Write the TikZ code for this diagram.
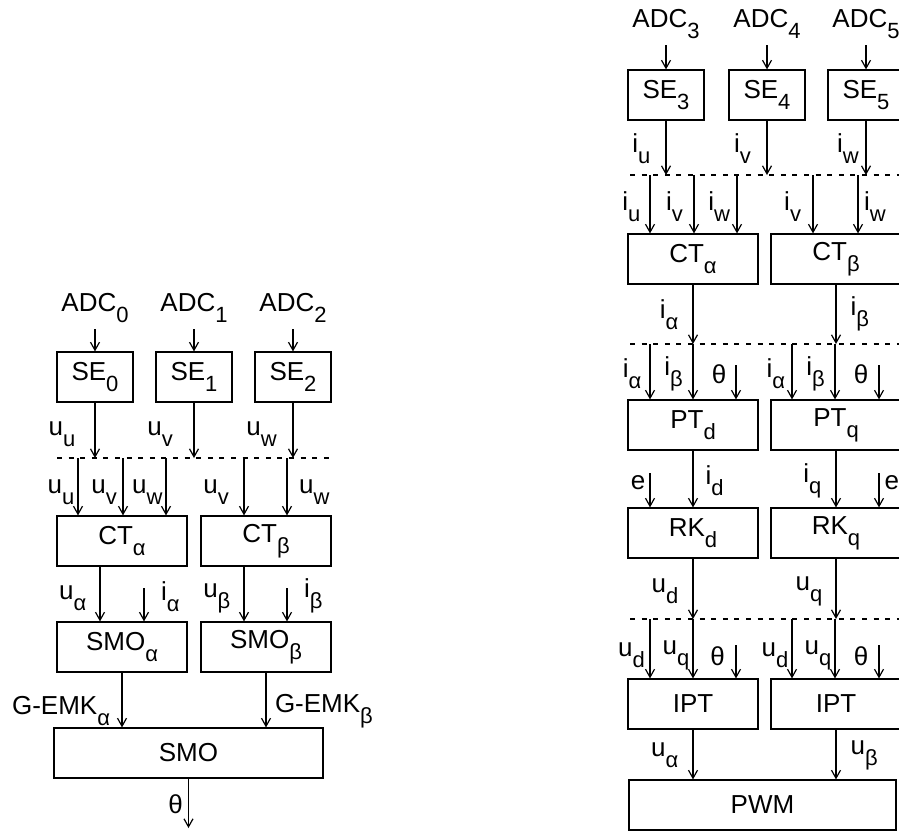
\documentclass[tikz,border=0pt]{standalone}
\usepackage{fontspec}
\setmainfont{Liberation Sans}
\usetikzlibrary{positioning, arrows.meta}

% lowered subscript as in the drawing
\newcommand{\lo}[1]{\raisebox{-5.5pt}{\fontsize{11}{13}\selectfont #1}}

\tikzset{
  blk/.style={draw, minimum width=65pt, minimum height=25pt, inner sep=0pt},
  seblk/.style={blk, minimum width=38pt},
  wideblk/.style={blk, minimum width=134pt},
  lbl/.style={inner sep=1.5pt},
  bus/.style={-, dash pattern=on 2.5pt off 3.3pt, line width=1pt},
}

\begin{document}
\begin{tikzpicture}[->,>={Straight Barb[length=4pt,width=4.5pt]}, semithick,
    x=1pt, y=-1pt, font=\fontsize{13}{15}\selectfont]
  \useasboundingbox (0,0) rectangle (449.5,415.5);
  \clip (0,0) rectangle (449.5,415.5);

  % ---- left: angle estimation ----
  \node[anchor=base] (adc0) at (47.5,155.5) {ADC\lo{0}};
  \node[anchor=base] (adc1) at (97,155.5) {ADC\lo{1}};
  \node[anchor=base] (adc2) at (146.5,155.5) {ADC\lo{2}};
  \node[seblk] (se0) at (47.5,188.5) {SE\lo{0}};
  \node[seblk] (se1) at (97,188.5) {SE\lo{1}};
  \node[seblk] (se2) at (146.5,188.5) {SE\lo{2}};
  \node[blk] (cta) at (61,270.5) {CT\lo{α}};
  \node[blk] (ctb) at (133,270.5) {CT\lo{β}};
  \node[blk] (smoa) at (61,323.5) {SMO\lo{α}};
  \node[blk] (smob) at (133,323.5) {SMO\lo{β}};
  \node[wideblk, minimum width=134.5pt] (smo) at (94.25,376.5) {SMO};

  \coordinate (busL) at (28.5,229);
  \coordinate (busLe) at (165.5,229);
  \draw[bus] (busL) -- (busLe);

  \path (adc0) edge (se0)
        (adc1) edge (se1)
        (adc2) edge (se2);
  \path (se0) edge node[lbl,left,pos=0.57,xshift=-8pt] {u\lo{u}} (se0 |- busL)
        (se1) edge node[lbl,left,pos=0.57,xshift=-8.8pt] {u\lo{v}} (se1 |- busL)
        (se2) edge node[lbl,left,pos=0.57,xshift=-6.3pt] {u\lo{w}} (se2 |- busL);

  \coordinate (l1) at (39,229);
  \coordinate (l2) at (61.5,229);
  \coordinate (l3) at (83,229);
  \coordinate (l4) at (122,229);
  \coordinate (l5) at (143.5,229);
  \path (l1) edge node[lbl,left,pos=0.6] {u\lo{u}} (l1 |- cta.north)
        (l2) edge node[lbl,left,pos=0.6,xshift=-1.3pt] {u\lo{v}} (l2 |- cta.north)
        (l3) edge node[lbl,left,pos=0.6] {u\lo{w}} (l3 |- cta.north)
        (l4) edge node[lbl,left,pos=0.6,xshift=-5.8pt] {u\lo{v}} (l4 |- ctb.north)
        (l5) edge node[lbl,right,pos=0.6,xshift=4.3pt] {u\lo{w}} (l5 |- ctb.north);

  \coordinate (ia) at (72,294);
  \coordinate (ib) at (143.5,294);
  \path ([xshift=-11pt]cta.south) edge node[lbl,left,pos=0.58,xshift=-5pt] {u\lo{α}} ([xshift=-11pt]smoa.north)
        (ia) edge node[lbl,right,pos=0.25,xshift=6.8pt] {i\lo{α}} (ia |- smoa.north)
        ([xshift=-11pt]ctb.south) edge node[lbl,left,pos=0.58,xshift=-5pt] {u\lo{β}} ([xshift=-11pt]smob.north)
        (ib) edge node[lbl,right,pos=0.25,xshift=6.8pt] {i\lo{β}} (ib |- smob.north);

  \coordinate (th) at (94.5,414);
  \path (smoa) edge node[lbl,left,pos=0.7,xshift=-4.2pt] {G-EMK\lo{α}} (smoa |- smo.north)
        (smob) edge node[lbl,right,pos=0.7,xshift=2.7pt] {G-EMK\lo{β}} (smob |- smo.north)
        (smo) edge node[lbl,left,pos=0.52,xshift=-1pt] {θ} (smo |- th);

  % ---- right: current control ----
  \node[anchor=base] (adc3) at (333,13.5) {ADC\lo{3}};
  \node[anchor=base] (adc4) at (383.5,13.5) {ADC\lo{4}};
  \node[anchor=base] (adc5) at (433,13.5) {ADC\lo{5}};
  \node[seblk] (se3) at (333,47.5) {SE\lo{3}};
  \node[seblk] (se4) at (383.5,47.5) {SE\lo{4}};
  \node[seblk] (se5) at (433,47.5) {SE\lo{5}};
  \node[blk] (cta2) at (346.5,129.5) {CT\lo{α}};
  \node[blk] (ctb2) at (418,129.5) {CT\lo{β}};
  \node[blk] (ptd) at (346.5,212.5) {PT\lo{d}};
  \node[blk] (ptq) at (418,212.5) {PT\lo{q}};
  \node[blk] (rkd) at (346.5,266.5) {RK\lo{d}};
  \node[blk] (rkq) at (418,266.5) {RK\lo{q}};
  \node[blk] (iptd) at (346.5,352) {IPT};
  \node[blk] (iptq) at (418,352) {IPT};
  \node[wideblk, minimum width=133.5pt] (pwm) at (381.25,402.5) {PWM};

  \coordinate (bus1) at (315,87.5);
  \coordinate (bus2) at (315,172);
  \coordinate (bus3) at (315,309.5);
  \draw[bus] (bus1) -- ++(140,0);
  \draw[bus] (bus2) -- ++(140,0);
  \draw[bus] (bus3) -- ++(140,0);

  \path (adc3) edge (se3)
        (adc4) edge (se4)
        (adc5) edge (se5);
  \path (se3) edge node[lbl,left,pos=0.52,xshift=-6pt] {i\lo{u}} (se3 |- bus1)
        (se4) edge node[lbl,left,pos=0.52,xshift=-6.3pt] {i\lo{v}} (se4 |- bus1)
        (se5) edge node[lbl,left,pos=0.52,xshift=-1.8pt] {i\lo{w}} (se5 |- bus1);

  \coordinate (r1) at (325,87.5);
  \coordinate (r2) at (347,87.5);
  \coordinate (r3) at (368.5,87.5);
  \coordinate (r4) at (406.5,87.5);
  \coordinate (r5) at (429,87.5);
  \path (r1) edge node[lbl,left,pos=0.54,xshift=-3pt] {i\lo{u}} (r1 |- cta2.north)
        (r2) edge node[lbl,left,pos=0.54,xshift=-3.8pt] {i\lo{v}} (r2 |- cta2.north)
        (r3) edge node[lbl,left,pos=0.54,xshift=-1.7pt] {i\lo{w}} (r3 |- cta2.north)
        (r4) edge node[lbl,left,pos=0.54,xshift=-4.2pt] {i\lo{v}} (r4 |- ctb2.north)
        (r5) edge node[lbl,right,pos=0.54,xshift=1.3pt] {i\lo{w}} (r5 |- ctb2.north);

  \path (cta2) edge node[lbl,left,xshift=-5.5pt] {i\lo{α}} (cta2 |- bus2)
        (ctb2) edge node[lbl,right,xshift=5.5pt] {i\lo{β}} (ctb2 |- bus2);

  \coordinate (p1) at (325,172);
  \coordinate (p2) at (346.5,172);
  \coordinate (p3) at (368,182.5);
  \coordinate (p4) at (396,172);
  \coordinate (p5) at (417.5,172);
  \coordinate (p6) at (439.5,182.5);
  \path (p1) edge node[lbl,left,pos=0.53,xshift=-2.5pt] {i\lo{α}} (p1 |- ptd.north)
        (p2) edge node[lbl,left,pos=0.53,xshift=-3.3pt] {i\lo{β}} (p2 |- ptd.north)
        (p3) edge node[lbl,left,pos=0.27,xshift=-3pt] {θ} (p3 |- ptd.north)
        (p4) edge node[lbl,left,pos=0.53,xshift=-1.7pt] {i\lo{α}} (p4 |- ptq.north)
        (p5) edge node[lbl,left,pos=0.53,xshift=-3.3pt] {i\lo{β}} (p5 |- ptq.north)
        (p6) edge node[lbl,left,pos=0.27,xshift=-3.5pt] {θ} (p6 |- ptq.north);

  \coordinate (e1) at (325,236.5);
  \coordinate (e2) at (439.5,236.5);
  \path (ptd) edge node[lbl,right,pos=0.53,xshift=4.5pt] {i\lo{d}} (rkd)
        (e1) edge node[lbl,left,pos=0.29,xshift=-0.5pt] {e} (e1 |- rkd.north)
        (ptq) edge node[lbl,left,pos=0.53,xshift=-5.5pt] {i\lo{q}} (rkq)
        (e2) edge node[lbl,right,pos=0.29,xshift=1pt] {e} (e2 |- rkq.north);

  \path (rkd) edge node[lbl,left,pos=0.54,xshift=-5.5pt] {u\lo{d}} (rkd |- bus3)
        (rkq) edge node[lbl,left,pos=0.54,xshift=-5pt] {u\lo{q}} (rkq |- bus3);

  \coordinate (q1) at (325,309.5);
  \coordinate (q2) at (346.5,309.5);
  \coordinate (q3) at (368,322.5);
  \coordinate (q4) at (396,309.5);
  \coordinate (q5) at (417.5,309.5);
  \coordinate (q6) at (439.5,322.5);
  \path (q1) edge node[lbl,left,pos=0.61,xshift=-0.8pt] {u\lo{d}} (q1 |- iptd.north)
        (q2) edge node[lbl,left,pos=0.61] {u\lo{q}} (q2 |- iptd.north)
        (q3) edge node[lbl,left,pos=0.33,xshift=-3.8pt] {θ} (q3 |- iptd.north)
        (q4) edge node[lbl,left,pos=0.61] {u\lo{d}} (q4 |- iptq.north)
        (q5) edge node[lbl,left,pos=0.61] {u\lo{q}} (q5 |- iptq.north)
        (q6) edge node[lbl,left,pos=0.33,xshift=-3.5pt] {θ} (q6 |- iptq.north);

  \path (iptd) edge node[lbl,left,pos=0.52,xshift=-5.5pt] {u\lo{α}} (iptd |- pwm.north)
        (iptq) edge node[lbl,right,pos=0.52,xshift=5.5pt] {u\lo{β}} (iptq |- pwm.north);
\end{tikzpicture}
\end{document}
